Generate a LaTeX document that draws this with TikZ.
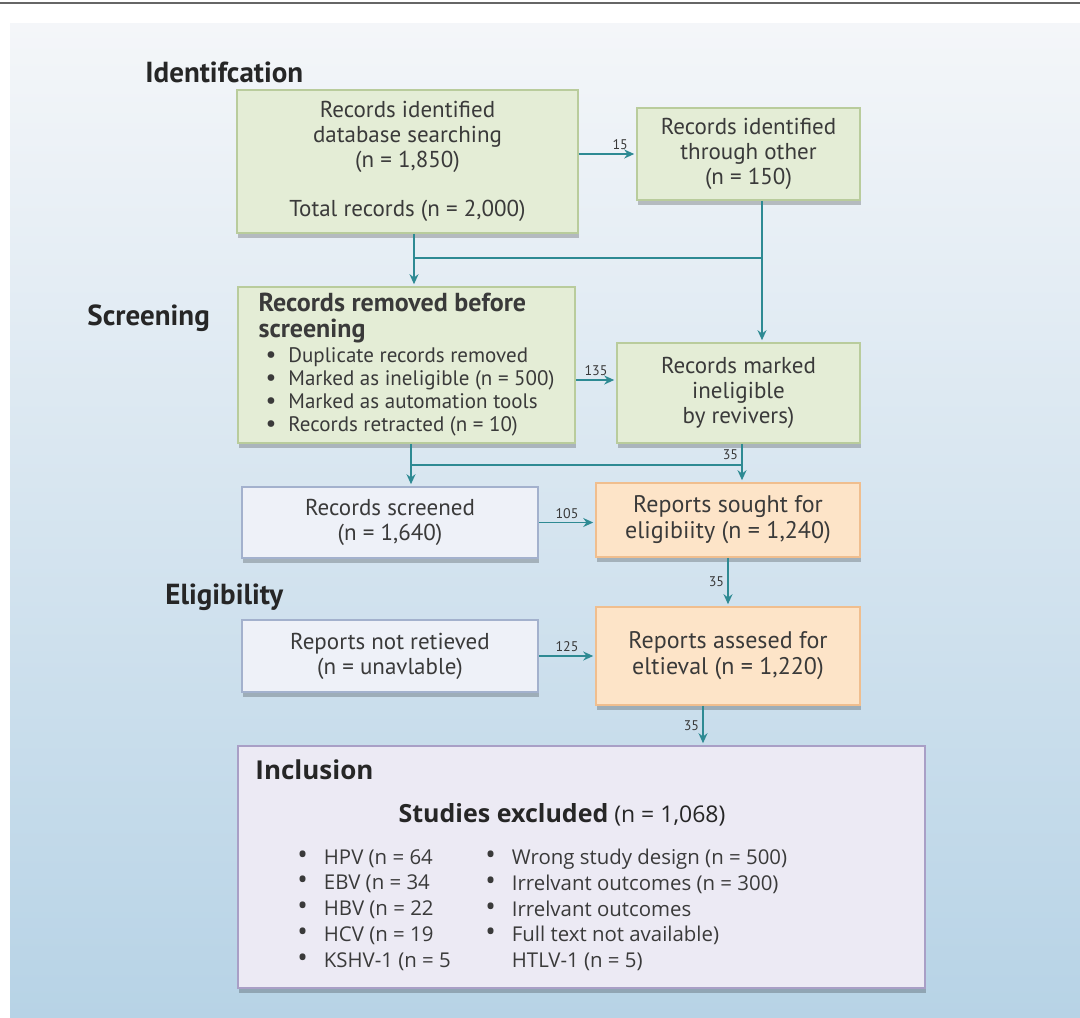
\documentclass[tikz,border=0pt]{standalone}
\usepackage{fontspec}
\setmainfont{PT Sans}
\newfontfamily\incfont{Open Sans}
\usetikzlibrary{arrows.meta,shadows}

\definecolor{greenfill}{HTML}{E4EDD6}
\definecolor{greenline}{HTML}{B9CC9C}
\definecolor{bluefill}{HTML}{EEF1F8}
\definecolor{blueline}{HTML}{A3B1CD}
\definecolor{orangefill}{HTML}{FDE4C8}
\definecolor{orangeline}{HTML}{F0BE8E}
\definecolor{lilacfill}{HTML}{ECEAF4}
\definecolor{lilacline}{HTML}{A99FC6}
\definecolor{tealline}{HTML}{2E8A93}
\definecolor{textgray}{HTML}{3A3A3A}
\definecolor{bgtop}{HTML}{F4F6F9}
\definecolor{bgbot}{HTML}{B7D3E6}

\begin{document}
\begin{tikzpicture}[x=0.5pt,y=-0.5pt,
    box/.style={rectangle, draw, line width=0.8pt, inner sep=0pt, align=center, text=textgray,
      font=\fontsize{11.5}{12.5}\selectfont,
      drop shadow={shadow xshift=0.5pt, shadow yshift=-2.5pt, opacity=0.22, fill=black}},
    greenbox/.style={box, fill=greenfill, draw=greenline},
    bluebox/.style={box, fill=bluefill, draw=blueline},
    orangebox/.style={box, fill=orangefill, draw=orangeline, font=\fontsize{12}{13}\selectfont},
    lilacbox/.style={box, fill=lilacfill, draw=lilacline},
    arr/.style={draw=tealline, line width=0.9pt, shorten >=1pt, -{Stealth[length=5pt,width=4.5pt]}},
    link/.style={draw=tealline, line width=0.9pt},
    num/.style={font=\fontsize{7}{8}\selectfont, text=textgray, inner sep=1.5pt},
    title/.style={font=\bfseries\fontsize{14.5}{16}\selectfont, text=black!85, anchor=west, inner sep=0pt},
    inclist/.style={font=\incfont\fontsize{10.2}{12.9}\selectfont, text=textgray, align=left, anchor=west, inner sep=0pt}]

  % Variables
  \def \rowone {258}
  \def \rowtwo {465}
  \newcommand{\bul}{{\fontsize{12}{11}\selectfont\textbullet}\hspace{6pt}}
  \newcommand{\incbul}{{\fontsize{14}{12}\selectfont\textbullet}\hspace{8pt}}

  % Page
  \useasboundingbox (0,0) rectangle (1080,1017);
  \shade[top color=bgtop, bottom color=bgbot] (10,23) rectangle (1080,1017);
  \draw[line width=1.2pt, draw=black!60] (0,3) -- (1080,3);

  % Stage titles
  \node[title] (ident) at (145,72) {Identifcation};
  \node[title] (screen) at (87,318) {Screening};
  \node[title] (elig) at (165,597) {Eligibility};

  % Rectangles
  \node[greenbox, minimum width=170.5pt, minimum height=71.5pt] (A) at (407.5,161.5)
    {Records identified\\database searching\\(n = 1,850)\\[12pt]Total records (n = 2,000)};
  \node[greenbox, minimum width=111.5pt, minimum height=46pt] (B) at (748.5,154)
    {Records identified\\through other\\(n = 150)};
  \node[greenbox, minimum width=168.5pt, minimum height=78pt, align=left,
        font=\fontsize{10.5}{11.5}\selectfont] (C) at (406.5,365)
    {{\bfseries\fontsize{13}{13}\selectfont Records removed before}\\[1.5pt]
     {\bfseries\fontsize{13}{13}\selectfont screening}\\[1pt]
     \hspace*{3.5pt}\bul Duplicate records removed\\
     \hspace*{3.5pt}\bul Marked as ineligible (n = 500)\\
     \hspace*{3.5pt}\bul Marked as automation tools\\
     \hspace*{3.5pt}\bul Records retracted (n = 10)};
  \node[greenbox, minimum width=121.5pt, minimum height=50pt] (D) at (738.5,393)
    {Records marked\\ineligible\\by revivers)};
  \node[bluebox, minimum width=148pt, minimum height=35.5pt] (E) at (390,522.5)
    {Records screened\\(n = 1,640)};
  \node[orangebox, minimum width=132pt, minimum height=37pt] (F) at (728,520)
    {Reports sought for\\eligibiity (n = 1,240)};
  \node[bluebox, minimum width=148pt, minimum height=36pt] (H) at (390,656)
    {Reports not retieved\\(n = unavlable)};
  \node[orangebox, minimum width=132pt, minimum height=49pt] (G) at (728,656)
    {Reports assesed for\\eltieval (n = 1,220)};
  \node[lilacbox, minimum width=343.5pt, minimum height=121pt] (I) at (581.5,867) {};

  % Inclusion texts
  \node[font=\incfont\bfseries\fontsize{13}{15}\selectfont, text=black!85, anchor=west, inner sep=0pt]
    (inc) at (255,770) {Inclusion};
  \node[font=\incfont\fontsize{11.5}{12}\selectfont, text=black!85, inner sep=0pt]
    (excl) at (562,815) {{\bfseries\fontsize{12.5}{12}\selectfont Studies excluded} (n = 1,068)};
  \node[inclist] (virus) at (297,910)
    {\incbul HPV (n = 64\\ \incbul EBV (n = 34\\ \incbul HBV (n = 22\\ \incbul HCV (n = 19\\ \incbul KSHV-1 (n = 5};
  \node[inclist] (reason) at (485,910)
    {\incbul Wrong study design (n = 500)\\ \incbul Irrelvant outcomes (n = 300)\\ \incbul Irrelvant outcomes\\
     \incbul Full text not available)\\ \hphantom{\incbul}HTLV-1 (n = 5)};

  % Junctions
  \coordinate (j1) at (414,\rowone);
  \coordinate (j2) at (762,\rowone);
  \coordinate (j3) at (411,\rowtwo);
  \coordinate (j4) at (742,\rowtwo);

  % Connectors
  \draw[arr] (A.east |- B.west) -- node[num, above, pos=0.72] {15} (B.west);
  \draw[link] (A.south -| j1) -- (j1);
  \draw[arr] (j1) -- (C.north -| j1);
  \draw[link] (B.south -| j2) -- (j2);
  \draw[arr] (j2) -- (D.north -| j2);
  \draw[link] (j1) -- (j2);

  \draw[arr] ([yshift=-7.5pt]C.east) -- node[num, above] {135} ([yshift=-7.5pt]C.east -| D.west);
  \draw[link] (C.south -| j3) -- (j3);
  \draw[arr] (j3) -- (E.north -| j3);
  \draw[link] (D.south -| j4) -- node[num, left] {35} (j4);
  \draw[arr] (j4) -- (F.north -| j4);
  \draw[link] (j3) -- (j4);

  \draw[arr] (E.east) -- node[num, above] {105} (E.east -| F.west);
  \draw[arr] (F.south) -- node[num, left] {35} (G.north);
  \draw[arr] (H.east) -- node[num, above] {125} (G.west);
  \draw[arr] ([xshift=-12.5pt]G.south) -- node[num, left] {35} ([xshift=-12.5pt]G.south |- I.north);

\end{tikzpicture}
\end{document}
